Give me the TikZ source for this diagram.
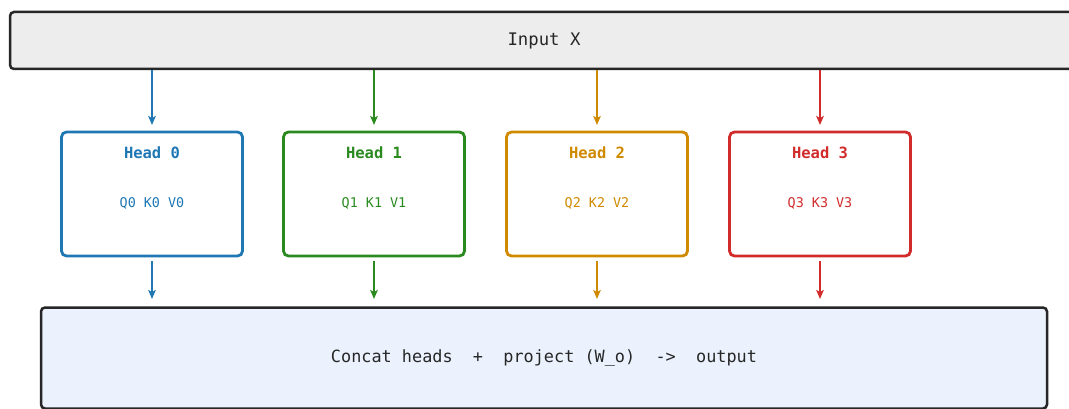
\documentclass[tikz,border=0pt]{standalone}
\usepackage{fontspec}
\setmonofont{DejaVu Sans Mono}
\usetikzlibrary{arrows.meta}
\definecolor{cblue}{HTML}{1F77B4}
\definecolor{cgreen}{HTML}{2A8A1F}
\definecolor{corange}{HTML}{D08A00}
\definecolor{cred}{HTML}{D12B2B}
\definecolor{cdark}{HTML}{262626}
\definecolor{cgrayfill}{HTML}{EDEDED}
\definecolor{cbluefill}{HTML}{EBF2FE}
\tikzset{
  x=1pt, y=-1pt,
  bigbox/.style={draw=cdark, line width=2.5pt, rounded corners=4pt, inner sep=0pt, text=cdark},
  headbox/.style={draw=#1, line width=2.8pt, rounded corners=5pt, minimum width=181pt, minimum height=124pt, inner sep=0pt},
  headtitle/.style={text=#1, font=\ttfamily\bfseries\fontsize{15.5}{18}\selectfont},
  headsub/.style={text=#1, font=\ttfamily\fontsize{13.4}{16}\selectfont},
  arr/.style={draw=#1, line width=2pt, -{Stealth[length=9pt,width=7.5pt,inset=2pt]}},
}
\begin{document}
\begin{tikzpicture}
\useasboundingbox (0,0) rectangle (1069,409);
\node[bigbox, fill=cgrayfill, minimum width=1068pt, minimum height=57pt, font=\ttfamily\fontsize{17.3}{20}\selectfont] (inp) at (544,40.5) {Input X};
\node[bigbox, fill=cbluefill, minimum width=1006pt, minimum height=101pt, font=\ttfamily\fontsize{16.85}{20}\selectfont] (out) at (544,358) {Concat heads\ \ +\ \ project (W\_o)\ \ ->\ \ output};
\foreach \i/\x/\c in {0/152/cblue,1/374/cgreen,2/597/corange,3/820/cred}{
  \node[headbox=\c] (h\i) at (\x,194) {};
  \node[headtitle=\c] (t\i) at (\x,153) {Head \i};
  \node[headsub=\c] (s\i) at (\x,203) {Q\i{} K\i{} V\i};
  \coordinate (a\i) at (\x,125);
  \coordinate (b\i) at (\x,299);
  \draw[arr=\c] (inp.south -| h\i) -- (a\i);
  \draw[arr=\c] ([yshift=-4pt]h\i.south) -- (b\i);
}
\end{tikzpicture}
\end{document}
